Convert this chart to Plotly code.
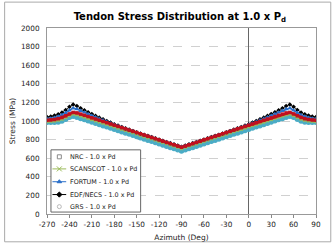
import plotly.graph_objects as go

azimuth = list(range(-270, 95, 5))
x_ticks = [-270, -240, -210, -180, -150, -120, -90, -60, -30, 0, 30, 60, 90]
x_tick_labels = ["-270", "-240", "-210", "-180", "-150", "-120", "-90", "-60", "-30", "0", "30", "60", "90"]

nrc = [1008,1011,1016,1025,1038,1056,1076,1092,1087,1074,1061,1048,1034,1021,1008,995,982,968,955,942,929,916,902,889,876,863,849,836,823,810,797,783,770,757,744,730,718,
       730,744,757,770,783,797,810,823,836,849,863,876,889,902,916,929,942,955,968,982,995,1008,1021,1034,1048,1061,1074,1087,1092,1076,1056,1038,1025,1016,1011,1008]
scanscot = [994,996,1000,1008,1020,1038,1058,1074,1068,1055,1042,1029,1016,1003,990,977,964,951,938,925,912,899,886,873,860,847,834,821,808,795,782,769,756,743,730,717,705,
            717,730,743,756,769,782,795,808,821,834,847,860,873,886,899,912,925,938,951,964,977,990,1003,1016,1029,1042,1055,1068,1074,1058,1038,1020,1008,1000,996,994]
fortum = [1024,1028,1036,1048,1065,1088,1115,1138,1128,1110,1092,1074,1057,1040,1023,1007,991,975,960,945,931,917,903,889,875,862,849,836,823,810,797,784,771,758,745,732,720,
          732,745,758,771,784,797,810,823,836,849,862,875,889,903,917,931,945,960,975,991,1007,1023,1040,1057,1074,1092,1110,1128,1138,1115,1088,1065,1048,1036,1028,1024]
edf = [1042,1048,1058,1072,1092,1118,1152,1178,1162,1138,1116,1095,1075,1055,1036,1018,1000,983,966,951,936,921,907,893,879,866,853,840,827,814,801,788,775,762,749,736,724,
       736,749,762,775,788,801,814,827,840,853,866,879,893,907,921,936,951,966,983,1000,1018,1036,1055,1075,1095,1116,1138,1162,1178,1152,1118,1092,1072,1058,1048,1042]
grs = [986,986,987,990,1000,1018,1040,1052,1041,1028,1015,1002,989,976,963,950,937,924,911,898,885,872,859,846,833,820,807,794,781,768,755,742,729,716,703,690,678,
       690,703,716,729,742,755,768,781,794,807,820,833,846,859,872,885,898,911,924,937,950,963,976,989,1002,1015,1028,1041,1052,1040,1018,1000,990,987,986,986]

series_names = ["NRC - 1.0 x Pd", "SCANSCOT - 1.0 x Pd", "FORTUM - 1.0 x Pd",
                "EDF/NECS - 1.0 x Pd", "GRS - 1.0 x Pd"]

fig = go.Figure()
fig.add_trace(go.Scatter(x=azimuth, y=grs, name=series_names[4], mode="lines+markers",
                         line=dict(color="#4bacc6", width=3),
                         marker=dict(symbol="circle", size=5.5, color="#4bacc6")))
fig.add_trace(go.Scatter(x=azimuth, y=scanscot, name=series_names[1], mode="lines+markers",
                         line=dict(color="#9bbb59", width=1.5),
                         marker=dict(symbol="x", size=3.5, color="#9bbb59")))
fig.add_trace(go.Scatter(x=azimuth, y=edf, name=series_names[3], mode="lines+markers",
                         line=dict(color="#000000", width=0.8),
                         marker=dict(symbol="diamond", size=3.5, color="#000000")))
fig.add_trace(go.Scatter(x=azimuth, y=fortum, name=series_names[2], mode="lines+markers",
                         line=dict(color="#2a6fc9", width=1.5),
                         marker=dict(symbol="triangle-up", size=4.5, color="#2a6fc9")))
fig.add_trace(go.Scatter(x=azimuth, y=nrc, name=series_names[0], mode="lines+markers",
                         line=dict(color="#c0101e", width=2.5),
                         marker=dict(symbol="square", size=3.5, color="#c0101e")))

# ---- compact legend box, drawn in data coordinates of the main axes ----
leg_rows = [615, 485, 347, 209, 79]
leg_symbols = ["square-open", "x-thin-open", "triangle-up", "diamond", "circle-open"]
leg_colors = ["#8a8a8a", "#9bbb59", "#2a6fc9", "#000000", "#b8b8b8"]
leg_lines = [False, True, True, True, False]

fig.add_shape(type="rect", xref="x", yref="y", x0=-264.7, x1=-144.7, y0=21, y1=690,
              line=dict(color="#666666", width=1), fillcolor="white", layer="between")
for yy, sym, col, has_line, name in zip(leg_rows, leg_symbols, leg_colors, leg_lines, series_names):
    if has_line:
        fig.add_shape(type="line", xref="x", yref="y", x0=-262.7, x1=-244.3, y0=yy, y1=yy,
                      line=dict(color=col, width=1), layer="between")
    fig.add_trace(go.Scatter(x=[-253.5], y=[yy], mode="markers",
                             showlegend=False, hoverinfo="skip",
                             marker=dict(symbol=sym, size=4 if sym != "x-thin-open" else 5,
                                         color=col, line=dict(color=col, width=1))))
    fig.add_annotation(x=-241.6, y=yy, xref="x", yref="y", text=name, showarrow=False,
                       xanchor="left", yanchor="middle",
                       font=dict(family="DejaVu Sans", size=6.4, color="#222222"))

fig.update_layout(
    width=333, height=252,
    margin=dict(l=44, r=16, t=28, b=30),
    paper_bgcolor="white", plot_bgcolor="white",
    font=dict(family="DejaVu Sans", size=8, color="#222222"),
    title=dict(text="<b>Tendon Stress Distribution at 1.0 x P<sub>d</sub></b>",
               x=0.54, xanchor="center", y=0.935, yanchor="middle",
               font=dict(family="DejaVu Sans", size=10, color="#000000")),
    xaxis=dict(range=[-270, 90], tickvals=x_ticks, ticktext=x_tick_labels,
               ticks="outside", ticklen=3, tickangle=0,
               tickcolor="#888888", tickfont=dict(size=7.3),
               showline=True, linecolor="#999999", mirror=True, showgrid=False,
               zeroline=True, zerolinecolor="#666666", zerolinewidth=1,
               title=dict(text="Azimuth (Deg)", font=dict(size=7.5), standoff=6)),
    yaxis=dict(range=[0, 2000], dtick=200, ticks="", tickfont=dict(size=7.3),
               ticklabelstandoff=5,
               showline=True, linecolor="#999999", mirror=True,
               showgrid=True, gridcolor="#d0d0d0", griddash="dash", gridwidth=1,
               zeroline=False,
               title=dict(text="Stress (MPa)", font=dict(size=7.5), standoff=4)),
    showlegend=False,
)

fig.add_shape(type="rect", xref="paper", yref="paper",
              x0=-43/273, x1=1 + 15/273, y0=-29/194, y1=1 + 27/194,
              line=dict(color="#aaaaaa", width=1), fillcolor="rgba(0,0,0,0)", layer="below")

fig.write_html("out.html")
